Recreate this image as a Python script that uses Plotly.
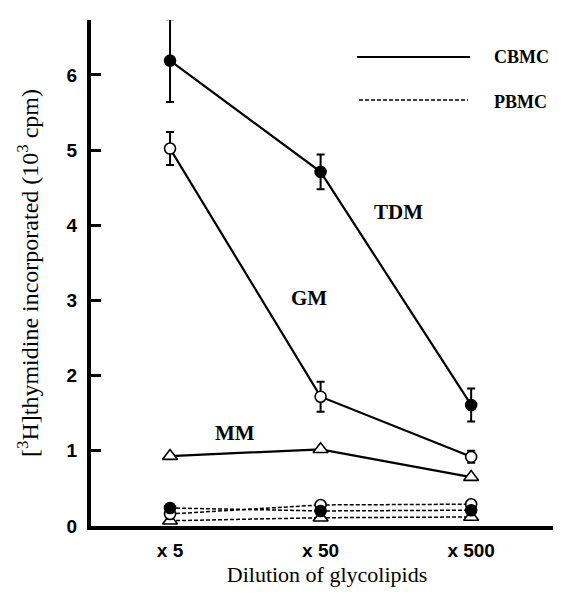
import plotly.graph_objects as go

categories = ["x 5", "x 50", "x 500"]
xpos = [0, 1, 2]

# CBMC (solid lines)
tdm_cbmc = [6.19, 4.71, 1.61]
tdm_cbmc_err = [0.55, 0.23, 0.22]
gm_cbmc = [5.02, 1.72, 0.92]
gm_cbmc_err = [0.22, 0.20, 0.08]
mm_cbmc = [0.93, 1.02, 0.65]

# PBMC (dashed lines)
tdm_pbmc = [0.24, 0.20, 0.21]
gm_pbmc = [0.16, 0.28, 0.29]
mm_pbmc = [0.07, 0.11, 0.12]

yticks = [0, 1, 2, 3, 4, 5, 6]

fig = go.Figure()

def add(y, symbol, fill, dash, width, err=None):
    fig.add_trace(go.Scatter(
        x=xpos, y=y, mode="lines+markers",
        line=dict(color="black", width=width, dash=dash),
        marker=dict(symbol=symbol, size=11 if "circle" in symbol else 13,
                    color=fill, line=dict(color="black", width=1.6)),
        error_y=(dict(type="data", array=err, visible=True, color="black",
                      thickness=2, width=4) if err else None),
        showlegend=False, cliponaxis=False,
    ))

dashp = "4px,2px"
add(mm_pbmc, "triangle-up", "white", dashp, 1.5)
add(gm_pbmc, "circle", "white", dashp, 1.5)
add(tdm_pbmc, "circle", "black", dashp, 1.5)
add(mm_cbmc, "triangle-up", "white", "solid", 2.2)
add(gm_cbmc, "circle", "white", "solid", 2.2, gm_cbmc_err)
add(tdm_cbmc, "circle", "black", "solid", 2.2, tdm_cbmc_err)

bold_serif = dict(family="Liberation Serif", size=21, color="black")
for txt, x, y in [("TDM", 1.515, 4.18), ("GM", 0.92, 3.03), ("MM", 0.43, 1.24)]:
    fig.add_annotation(x=x, y=y, text="<b>%s</b>" % txt, showarrow=False,
                       font=bold_serif, xref="x", yref="y",
                       xanchor="center", yanchor="middle")

# legend drawn manually (paper coords; plot spans y 12..518 px)
def py(pix):
    return 1 - (pix - 12) / 506.0

fig.add_shape(type="line", xref="paper", yref="paper", x0=(349 - 83) / 472, x1=(462 - 83) / 472,
              y0=py(49), y1=py(49), line=dict(color="black", width=2.2))
fig.add_shape(type="line", xref="paper", yref="paper", x0=(351 - 83) / 472, x1=(460 - 83) / 472,
              y0=py(92), y1=py(92), line=dict(color="black", width=1.5, dash=dashp))
for txt, ypix in [("CBMC", 49), ("PBMC", 94)]:
    fig.add_annotation(xref="paper", yref="paper", x=(484 - 83) / 472, y=py(ypix),
                       text="<b>%s</b>" % txt, showarrow=False,
                       xanchor="left", yanchor="middle",
                       font=dict(family="Liberation Serif", size=18, color="black"))

fig.update_layout(
    width=561, height=595,
    margin=dict(l=83, r=6, t=12, b=77),
    plot_bgcolor="white", paper_bgcolor="white",
    xaxis=dict(range=[-0.525, 2.61], tickvals=xpos, ticktext=["<b>%s</b>" % c for c in categories],
               showgrid=False, zeroline=False, showline=True, linecolor="black", linewidth=4,
               ticks="", ticklabelstandoff=4,
               tickfont=dict(family="Liberation Sans", size=19, color="black"),
               title=dict(text="Dilution of glycolipids", standoff=8,
                          font=dict(family="Liberation Serif", size=22, color="black"))),
    yaxis=dict(range=[0, 6.73], tickvals=yticks, ticktext=["<b>%d</b>" % v for v in yticks],
               showgrid=False, zeroline=False, showline=True, linecolor="black", linewidth=4,
               ticks="inside", ticklen=10, tickwidth=2.7, tickcolor="black",
               ticklabelstandoff=6,
               tickfont=dict(family="Liberation Sans", size=19, color="black"),
               title=dict(text="[<sup>3</sup>H]thymidine incorporated (10<sup>3</sup> cpm)", standoff=22,
                          font=dict(family="Liberation Serif", size=24, color="black"))),
)

fig.write_html("out.html")
